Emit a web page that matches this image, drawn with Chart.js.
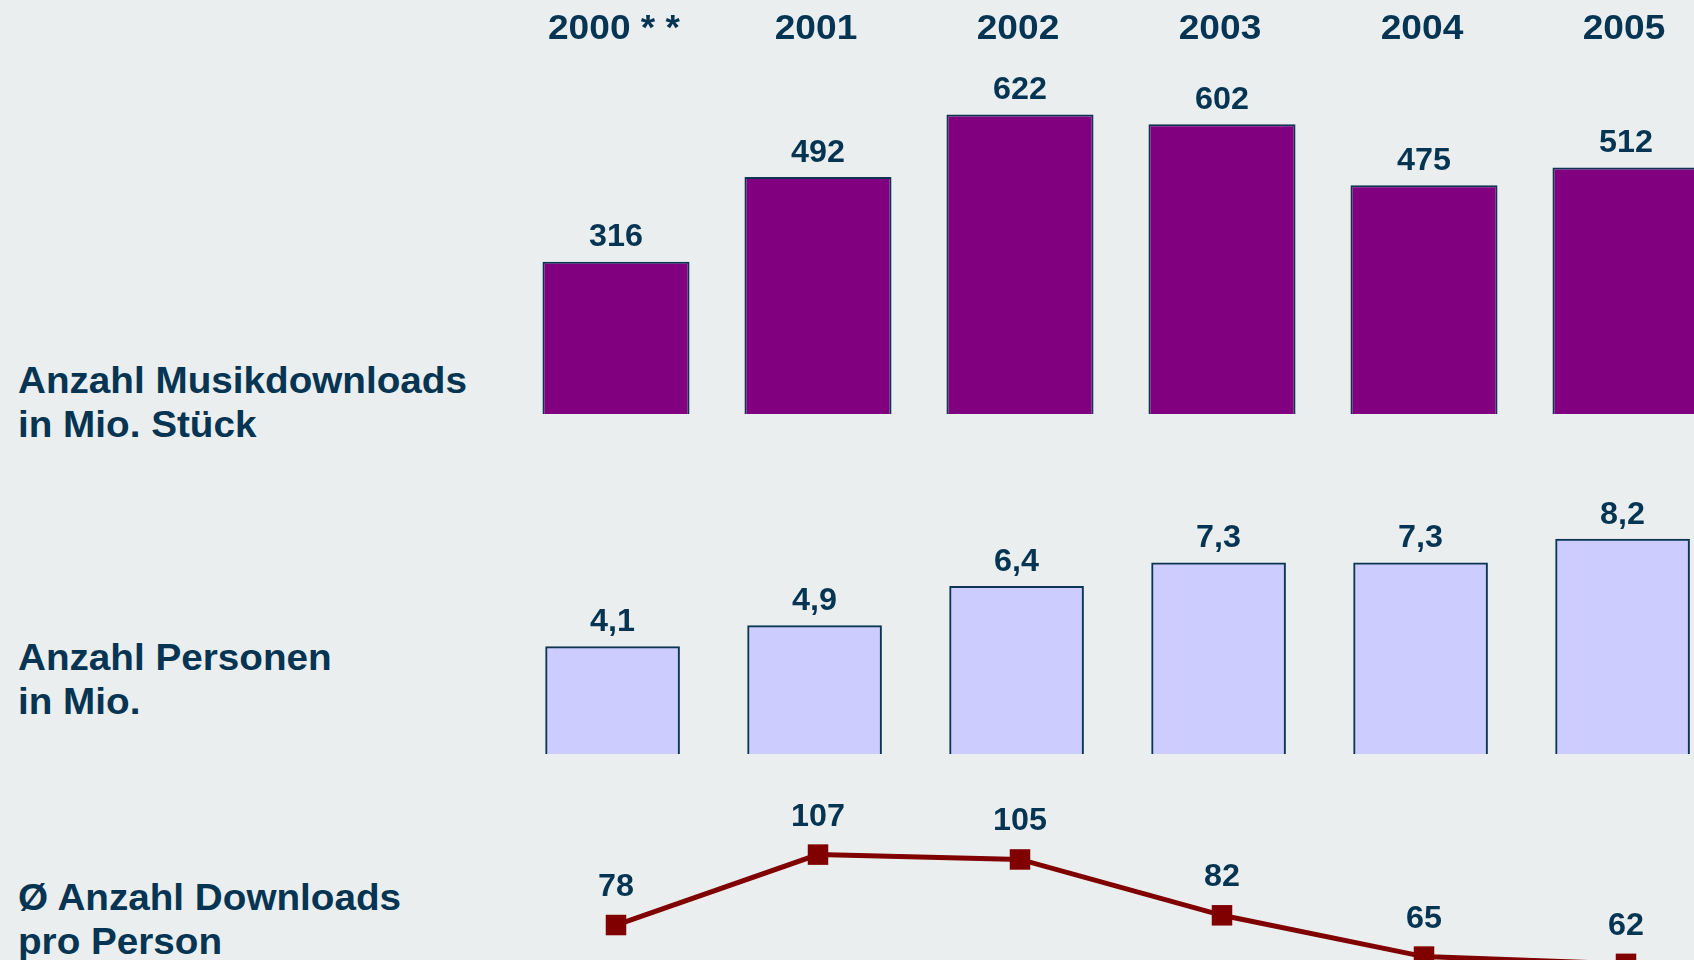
<!DOCTYPE html>
<html lang="de">
<head>
<meta charset="utf-8">
<title>Musikdownloads 2000–2005</title>
<script src="https://cdn.jsdelivr.net/npm/chart.js@4/dist/chart.umd.min.js"></script>
<style>
  html, body { margin: 0; padding: 0; }
  body {
    width: 1694px; height: 960px; overflow: hidden; position: relative;
    background: #eaeeef;
    font-family: "Liberation Sans", Arial, Helvetica, sans-serif;
  }
  .row-label {
    position: absolute; left: 18px;
    font-weight: bold; font-size: 36px; line-height: 44px;
    color: #053552; white-space: nowrap;
    transform: scaleX(1.074); transform-origin: left top;
  }
  #wrap { position: absolute; left: 515px; top: 0; width: 1212px; height: 960px; }
</style>
</head>
<body>
<div class="row-label" style="top:359px">Anzahl Musikdownloads<br>in Mio. Stück</div>
<div class="row-label" style="top:636px">Anzahl Personen<br>in Mio.</div>
<div class="row-label" style="top:876px">Ø Anzahl Downloads<br>pro Person</div>
<div id="wrap"><canvas id="chart" width="1212" height="960"></canvas></div>
<script>
// Years shown across the top
const years = ['2000 * *', '2001', '2002', '2003', '2004', '2005'];
// Music downloads, millions of tracks
const downloads = [316, 492, 622, 602, 475, 512];
// People downloading, millions
const persons = [4.1, 4.9, 6.4, 7.3, 7.3, 8.2];
// Average downloads per person
const perPerson = [78, 107, 105, 82, 65, 62];

const TEXT = '#053552';
const FONT = '"Liberation Sans", Arial, Helvetica, sans-serif';
const H = 960;
const STRETCH = 1.06;

// Each row gets its own hidden y axis; the range is chosen so that the
// row's zero line sits at `base` pixels and one unit spans `k` pixels.
function band(base, k) {
  return { min: (base - H) / k, max: base / k, display: false };
}

const fmt = v => String(v).replace('.', ',');

function wideText(ctx, text, x, y) {
  ctx.save();
  ctx.translate(x, y);
  ctx.scale(STRETCH, 1);
  ctx.fillText(text, 0, 0);
  ctx.restore();
}

const valueLabels = {
  id: 'valueLabels',
  afterDatasetsDraw(chart) {
    const ctx = chart.ctx;
    ctx.save();
    ctx.fillStyle = TEXT;
    ctx.textAlign = 'center';
    ctx.textBaseline = 'alphabetic';
    ctx.font = 'bold 30.5px ' + FONT;
    chart.data.datasets.forEach((ds, i) => {
      const meta = chart.getDatasetMeta(i);
      const gap = ds.type === 'line' ? 29 : 15.5;
      meta.data.forEach((el, j) => {
        wideText(ctx, fmt(ds.values[j]), el.x, el.y - gap);
      });
    });
    // year headings
    const xs = chart.scales.x;
    ctx.font = 'bold 35px ' + FONT;
    years.forEach((y, i) => wideText(ctx, y, xs.getPixelForValue(i) - 2, 38.5));
    ctx.restore();
  }
};

new Chart(document.getElementById('chart'), {
  data: {
    labels: years,
    datasets: [
      {
        type: 'bar', data: downloads, values: downloads, yAxisID: 'yDl',
        backgroundColor: '#800080', borderColor: '#0b3552', borderWidth: 2,
        barPercentage: 0.728, categoryPercentage: 1, grouped: false
      },
      {
        type: 'bar', values: persons, xAxisID: 'xPers', yAxisID: 'yPers',
        data: persons.map((v, i) => ({ x: i, y: v })),
        backgroundColor: '#ccccff', borderColor: '#0b3552', borderWidth: 2,
        barThickness: 134, grouped: false
      },
      {
        type: 'line', data: perPerson, values: perPerson, yAxisID: 'yAvg',
        borderColor: '#800000', borderWidth: 5,
        pointStyle: 'rect', pointRadius: 14.5, pointBorderWidth: 0,
        pointBackgroundColor: '#800000', tension: 0, clip: false
      }
    ]
  },
  options: {
    responsive: false,
    animation: false,
    devicePixelRatio: 1,
    layout: { padding: 0, autoPadding: false },
    plugins: { legend: { display: false }, tooltip: { enabled: false } },
    scales: {
      x: { type: 'category', offset: true, display: false },
      // the person bars sit a few pixels left of the other rows
      xPers: { type: 'linear', display: false, offset: false, min: -0.483, max: 5.517 },
      yDl: band(414, 0.4815),
      yPers: band(754, 26.2),
      yAvg: band(1114.4, 2.428)
    }
  },
  plugins: [valueLabels]
});
</script>
</body>
</html>
